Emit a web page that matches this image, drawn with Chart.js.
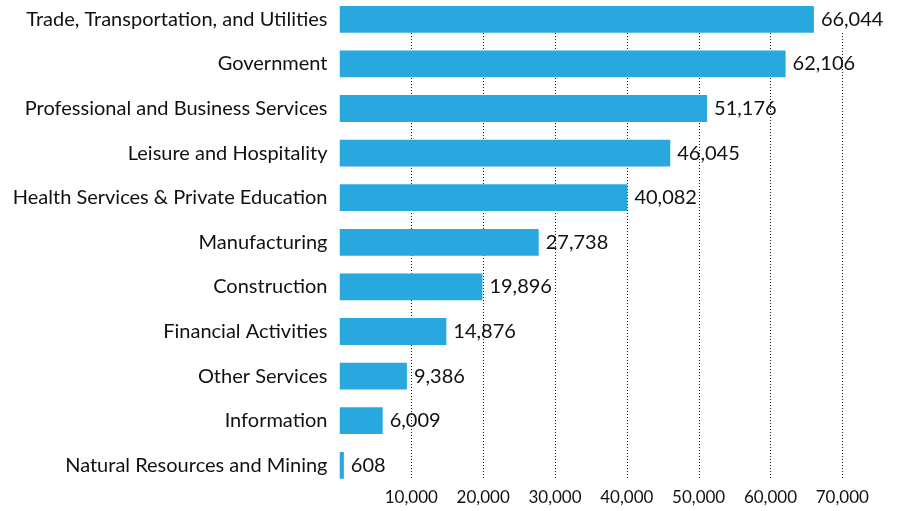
<!DOCTYPE html>
<html>
<head>
<meta charset="utf-8">
<script src="https://cdn.jsdelivr.net/npm/chart.js@4/dist/chart.umd.min.js"></script>
<style>
  html, body { margin: 0; padding: 0; background: #ffffff; overflow: hidden; }
  #wrap { position: absolute; left: 0; top: -3px; width: 903px; height: 514px; }
</style>
</head>
<body>
<div id="wrap"><canvas id="c"></canvas></div>
<script>
const categories = [
  "Trade, Transportation, and Utilities",
  "Government",
  "Professional and Business Services",
  "Leisure and Hospitality",
  "Health Services & Private Education",
  "Manufacturing",
  "Construction",
  "Financial Activities",
  "Other Services",
  "Information",
  "Natural Resources and Mining"
];
const employment = [66044, 62106, 51176, 46045, 40082, 27738, 19896, 14876, 9386, 6009, 608];
const tickValues = [10000, 20000, 30000, 40000, 50000, 60000, 70000];
const tickLabels = ["10,000", "20,000", "30,000", "40,000", "50,000", "60,000", "70,000"];

const FONT = 'Lato, Roboto, sans-serif';
const TEXT = '#111111';
const BAR = '#29a8e0';

const dottedGrid = {
  id: 'dottedGrid',
  beforeDatasetsDraw(chart) {
    const ctx = chart.ctx;
    const x = chart.scales.x;
    const meta = chart.getDatasetMeta(0);
    const first = meta.data[0];
    const last = meta.data[meta.data.length - 1];
    const y0 = first.y + first.height / 2;
    const y1 = last.y + last.height / 2;
    ctx.save();
    ctx.strokeStyle = '#111111';
    ctx.lineWidth = 1;
    ctx.setLineDash([1, 2]);
    x.ticks.forEach(t => {
      if (!tickValues.includes(t.value)) return;
      const px = Math.round(x.getPixelForValue(t.value)) + 0.5;
      ctx.beginPath();
      ctx.moveTo(px, Math.round(y0));
      ctx.lineTo(px, Math.round(y1));
      ctx.stroke();
    });
    ctx.restore();
  }
};

const valueLabels = {
  id: 'valueLabels',
  afterDatasetsDraw(chart) {
    const ctx = chart.ctx;
    const meta = chart.getDatasetMeta(0);
    ctx.save();
    ctx.font = '20px ' + FONT;
    ctx.fillStyle = TEXT;
    ctx.textAlign = 'left';
    ctx.textBaseline = 'middle';
    meta.data.forEach((bar, i) => {
      ctx.fillText(employment[i].toLocaleString('en-US'), bar.x + 7, bar.y);
    });
    ctx.restore();
  }
};

new Chart(document.getElementById('c'), {
  type: 'bar',
  data: {
    labels: categories,
    datasets: [{
      data: employment,
      backgroundColor: BAR,
      borderWidth: 0,
      categoryPercentage: 1.0,
      barPercentage: 0.6
    }]
  },
  options: {
    indexAxis: 'y',
    responsive: true,
    maintainAspectRatio: false,
    animation: false,
    layout: { padding: { left: 0, right: 60.7, top: 0, bottom: 0 } },
    plugins: { legend: { display: false }, tooltip: { enabled: false } },
    scales: {
      x: {
        min: 0,
        max: 70000,
        afterBuildTicks(scale) {
          scale.ticks = [0].concat(tickValues).map(v => ({ value: v }));
        },
        grid: { display: false, drawTicks: false },
        border: { display: false },
        ticks: {
          autoSkip: false,
          maxRotation: 0,
          padding: 0,
          color: TEXT,
          font: { family: FONT, size: 17 },
          callback(value) {
            const i = tickValues.indexOf(value);
            return i >= 0 ? tickLabels[i] : '';
          }
        },
        afterFit(scale) {
          scale.height = 23.4;
          scale.paddingLeft = 0;
          scale.paddingRight = 0;
        }
      },
      y: {
        grid: { display: false, drawTicks: false },
        border: { display: false },
        ticks: {
          autoSkip: false,
          padding: 12,
          color: TEXT,
          font: { family: FONT, size: 20 }
        },
        afterFit(scale) {
          scale.width = 339.5;
          scale.paddingTop = 0;
          scale.paddingBottom = 0;
        }
      }
    }
  },
  plugins: [dottedGrid, valueLabels]
});
</script>
</body>
</html>
